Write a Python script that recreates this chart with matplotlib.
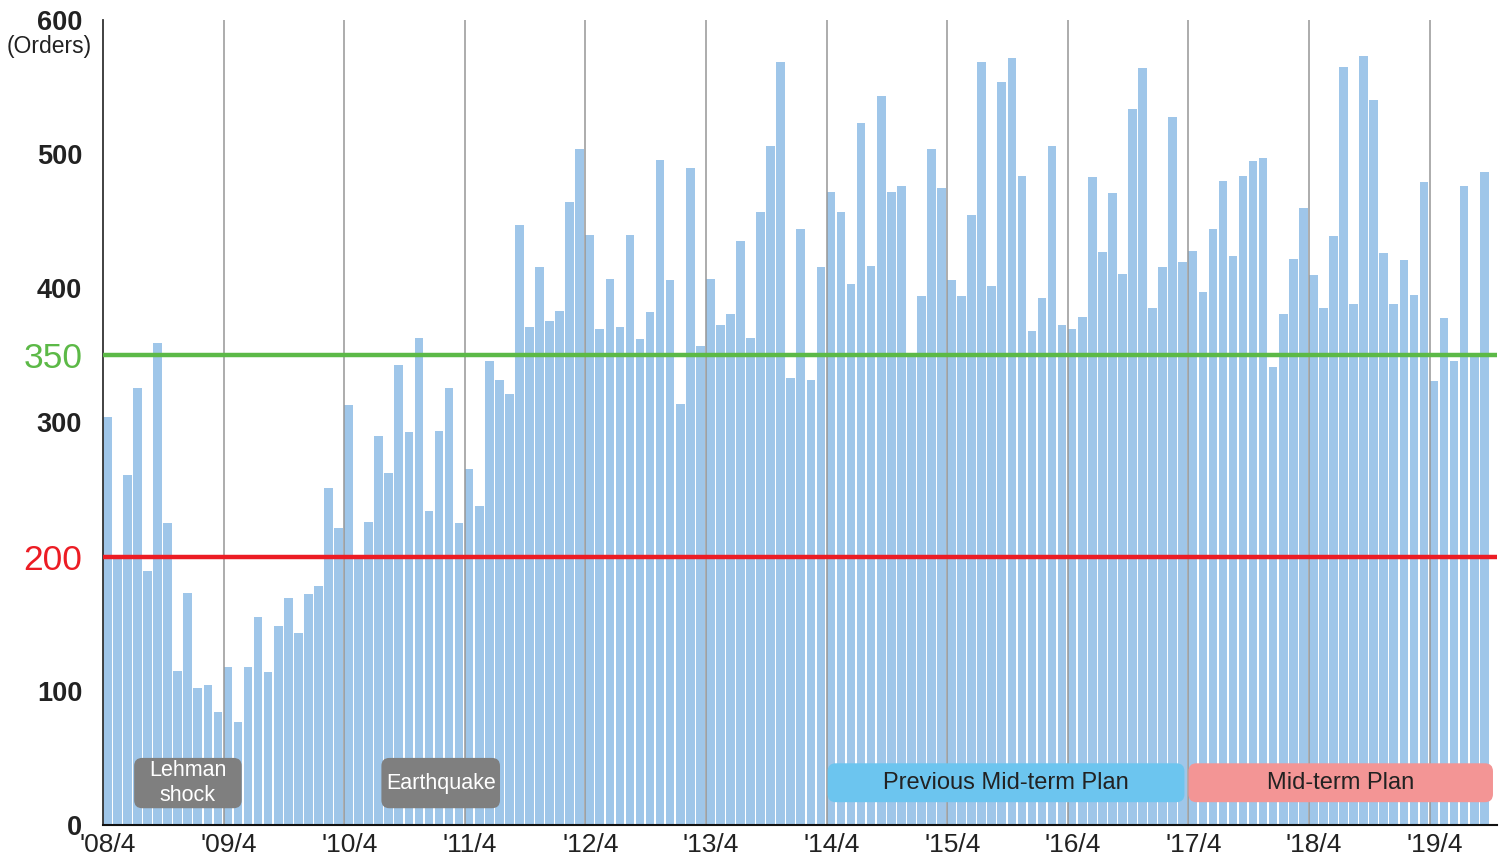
import matplotlib
matplotlib.use("Agg")
import matplotlib.pyplot as plt
from matplotlib.patches import FancyBboxPatch

# monthly orders, '08/4 .. '19/9
orders = [
    304, 200, 261, 326, 189, 359, 225, 115, 173, 102, 104, 84,
    118, 77, 118, 155, 114, 148, 169, 143, 172, 178, 251, 221,
    313, 200, 226, 290, 262, 343, 293, 363, 234, 294, 326, 225,
    265, 238, 346, 332, 321, 447, 371, 416, 376, 383, 464, 504,
    440, 370, 407, 371, 440, 362, 382, 496, 406, 314, 490, 357,
    407, 373, 381, 435, 363, 457, 506, 569, 333, 444, 332, 416,
    472, 457, 403, 523, 417, 543, 472, 476, 352, 394, 504, 475,
    406, 394, 455, 569, 402, 554, 572, 484, 368, 393, 506, 373,
    370, 379, 483, 427, 471, 411, 534, 564, 385, 416, 528, 420,
    428, 397, 444, 480, 424, 484, 495, 497, 341, 381, 422, 460,
    410, 385, 439, 565, 388, 573, 540, 426, 388, 421, 395, 479,
    331, 378, 346, 476, 351, 487,
]
year_labels = ["'08/4", "'09/4", "'10/4", "'11/4", "'12/4", "'13/4",
               "'14/4", "'15/4", "'16/4", "'17/4", "'18/4", "'19/4"]
y_ticks = [0, 100, 200, 300, 350, 400, 500, 600]
target_low = 200
target_high = 350

# periods for the labelled boxes (bar index start, end)
events = [("Lehman\nshock", 3.1, 13.8), ("Earthquake", 27.7, 39.5)]
plans = [("Previous Mid-term Plan", 72.1, 107.6, "#6cc5ef"),
         ("Mid-term Plan", 108.0, 138.3, "#f39595")]

FONT = ["Liberation Sans", "DejaVu Sans"]

fig = plt.figure(figsize=(15.06, 8.59), dpi=100)
ax = fig.add_axes([103 / 1506, 34 / 859, 1394 / 1506, 805 / 859])

x = list(range(len(orders)))
ax.bar(x, orders, width=0.86, align="edge", color="#9fc6e9", zorder=1)

# year separators
for i in range(12, len(orders), 12):
    ax.axvline(i, color="#969696", lw=1.1, zorder=2)

ax.axhline(target_high, color="#5cb947", lw=3.2, zorder=3)
ax.axhline(target_low, color="#ec1c24", lw=3.2, zorder=3)

ax.set_xlim(0, 138.7)
ax.set_ylim(0, 600)

for s in ["top", "right"]:
    ax.spines[s].set_visible(False)
ax.spines["left"].set_color("#333333")
ax.spines["left"].set_linewidth(1.3)
ax.spines["bottom"].set_color("#111111")
ax.spines["bottom"].set_linewidth(1.5)

ax.set_xticks([i + 0.5 for i in range(0, len(orders), 12)])
ax.set_xticklabels(year_labels, family=FONT, fontsize=19, color="#222222")
ax.tick_params(axis="x", length=0, pad=6)

ax.set_yticks(y_ticks)
ylabs = ax.set_yticklabels([str(v) for v in y_ticks])
ax.tick_params(axis="y", length=0, pad=15)
for v, t in zip(y_ticks, ylabs):
    t.set_family(FONT)
    if v == target_high:
        t.set_color("#5cb947")
        t.set_fontsize(25.5)
    elif v == target_low:
        t.set_color("#ec1c24")
        t.set_fontsize(25.5)
    else:
        t.set_color("#222222")
        t.set_fontsize(19.5)
        t.set_fontweight("bold")

fig.text(49 / 1506, 1 - 47 / 859, "(Orders)", ha="center", va="center",
         fontsize=16.5, color="#222222", family=FONT)

# rounded boxes: keep corners round despite different x/y data scales
asp = (600 / 805) / (138.7 / 1394)

def label_box(x0, x1, y0, y1, color, text, tcolor, fs):
    box = FancyBboxPatch((x0, y0), x1 - x0, y1 - y0,
                         boxstyle="round,pad=0,rounding_size=0.8",
                         mutation_aspect=asp, facecolor=color,
                         edgecolor="none", zorder=4)
    ax.add_patch(box)
    ax.text((x0 + x1) / 2, (y0 + y1) / 2, text, ha="center", va="center",
            fontsize=fs, color=tcolor, zorder=5, linespacing=1.2,
            family=FONT)

for text, a, b in events:
    label_box(a, b, 12.5, 50, "#7f7f7f", text, "white", 15.5)

for text, a, b, c in plans:
    label_box(a, b, 17, 46, c, text, "#222222", 17)

fig.savefig("out.png", dpi=100)
